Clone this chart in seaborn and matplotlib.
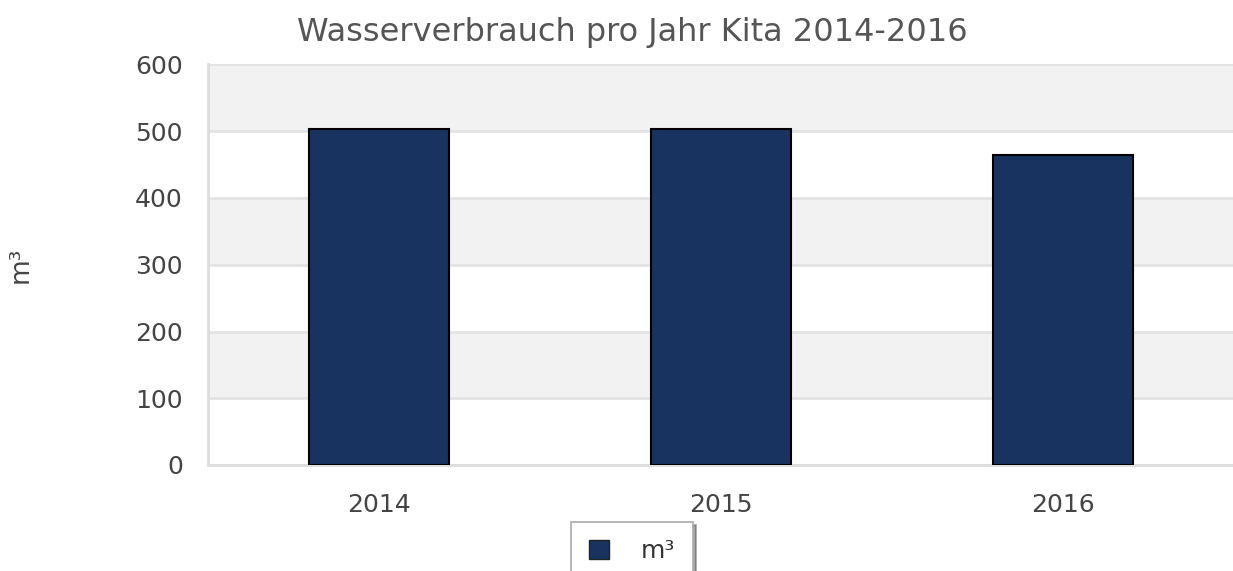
import matplotlib
matplotlib.use("Agg")
import matplotlib.pyplot as plt
import seaborn as sns
import pandas as pd
from matplotlib.patches import Patch

years = ["2014", "2015", "2016"]
values = [504, 504, 464]
yticks = [0, 100, 200, 300, 400, 500, 600]
title = "Wasserverbrauch pro Jahr Kita 2014-2016"
unit = "m³"

sns.set_style("white")
plt.rcParams["font.family"] = ["DejaVu Sans"]

fig = plt.figure(figsize=(12.33, 5.71), dpi=100)
ax = fig.add_axes([208/1233, 1-465/571, 1026/1233, (465-64.5)/571])

df = pd.DataFrame({"Jahr": years, "Wert": values})
sns.barplot(data=df, x="Jahr", y="Wert", color="#18335f", width=0.41,
            edgecolor="black", linewidth=1.5, saturation=1, ax=ax, zorder=3)

ax.set_ylim(yticks[0], yticks[-1])
ax.set_xlim(-0.5, len(years) - 0.5)
ax.set_yticks(yticks)
for i in range(len(yticks) - 1):
    if (len(yticks) - 2 - i) % 2 == 0:
        ax.axhspan(yticks[i], yticks[i+1], color="#f2f2f2", zorder=0, lw=0)
for t in yticks[1:]:
    ax.axhline(t, color="#e3e3e3", lw=2, zorder=1)

for s in ["top", "right"]:
    ax.spines[s].set_visible(False)
for s in ["left", "bottom"]:
    ax.spines[s].set_color("#dcdcdc")
    ax.spines[s].set_linewidth(2)

ax.tick_params(axis="both", labelsize=18, colors="#444444", length=0)
ax.tick_params(axis="y", pad=18)
ax.tick_params(axis="x", pad=20)
ax.set_xlabel("")
ax.set_ylabel("")

fig.text(632/1233, 1-32/571, title, ha="center", va="center", fontsize=23, color="#555555")
fig.text(21/1233, 1-265/571, unit, rotation=90, ha="center", va="center", fontsize=19, color="#444444")

handle = Patch(facecolor="#18335f", edgecolor="#222222", label=unit)
leg = fig.legend(handles=[handle], loc="upper center", bbox_to_anchor=(632/1233, 1-522/571),
                 fontsize=18, frameon=True, shadow=True, fancybox=False, borderaxespad=0,
                 handlelength=0.8, handleheight=0.8, borderpad=0.7, handletextpad=1.3)
leg.get_frame().set_edgecolor("#aaaaaa")
leg.get_frame().set_linewidth(1.2)
for t in leg.get_texts():
    t.set_color("#333333")

fig.savefig("out.png", dpi=100)
